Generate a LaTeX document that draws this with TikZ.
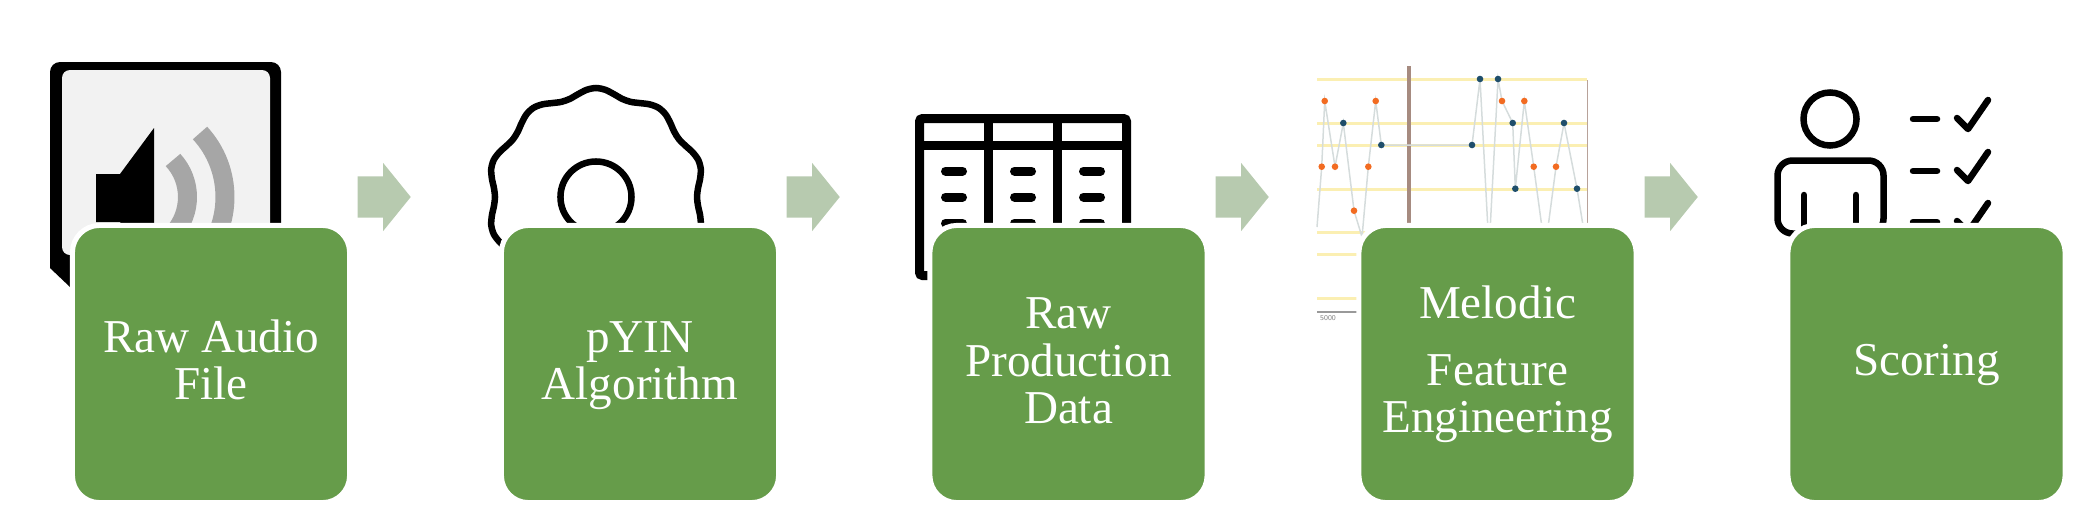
\documentclass[tikz,border=0pt]{standalone}
\usepackage{fontspec}
\setmainfont{Liberation Serif}
\usetikzlibrary{shapes.arrows, positioning}

\definecolor{boxgreen}{HTML}{669C4A}
\definecolor{arrowgreen}{HTML}{B7CAAF}
\definecolor{wavegray}{HTML}{A6A6A6}
\definecolor{panelgray}{HTML}{F2F2F2}
\definecolor{gridyellow}{HTML}{FBEFB2}
\definecolor{cursorbrown}{HTML}{A68B80}
\definecolor{traceline}{HTML}{D5DCDC}
\definecolor{dotorange}{HTML}{F26B21}
\definecolor{dotblue}{HTML}{1F4E6B}

\newcommand{\headstrut}{\rule{0pt}{0.34cm}}

\begin{document}
\begin{tikzpicture}[
    x=0.01cm, y=-0.01cm,
    stepbox/.style={
        draw=white, line width=0.05cm, rectangle, rounded corners=0.27cm,
        minimum width=2.77cm, minimum height=2.77cm, inner sep=0pt,
        fill=boxgreen, text=white, align=center,
        font=\fontsize{13.4}{13.6}\selectfont,
        execute at end node={\rule[-0.10cm]{0pt}{0.10cm}}
    },
    flowarrow/.style={
        single arrow, fill=arrowgreen, anchor=tail,
        inner xsep=0pt, inner ysep=0.2cm,
        minimum height=0.53cm, minimum width=0.67cm,
        single arrow head extend=0.135cm, single arrow tip angle=102
    },
    iconline/.style={draw=black, line width=0.065cm},
    tabline/.style={draw=black, line width=0.09cm},
    tabdash/.style={draw=black, line width=0.09cm, line cap=round},
    tickline/.style={draw=black, line width=0.065cm, line cap=round, line join=round},
    waveline/.style={draw=wavegray, line width=0.19cm},
    gridline/.style={draw=gridyellow, line width=0.03cm}
]
\useasboundingbox (0,0) rectangle (2092,530);

\fill[black, rounded corners=0.1cm] (50,268) -- (50,62) -- (281,62) -- (281,287) -- (100,287);
\fill[black] (50,262) -- (50,268) -- (70,287) -- (100,287) -- (100,262) -- cycle;
\fill[panelgray, rounded corners=0.08cm] (62,70) rectangle (270,255);
\fill[black] (96,174) -- (120,174) -- (154,128) -- (154,266) -- (120,222) -- (96,222) -- cycle;
\draw[waveline] (173,160) .. controls (192.3,180.8) and (192.3,213.2) .. (173,234);
\draw[waveline] (200,133) .. controls (233.3,169.1) and (233.3,224.9) .. (200,261);

\draw[iconline, smooth cycle] plot[domain=0:355, samples=72, variable=\t]
    ({596+(105+4*cos(10*(\t-90)))*cos(\t)}, {197-(105+4*cos(10*(\t-90)))*sin(\t)});
\draw[iconline] (596,197) ++(35.5,0) arc[start angle=0, end angle=360, radius=0.355cm];

\draw[tabline, rounded corners=0.03cm] (919.5,118.5) rectangle (1126.5,275.5);
\draw[tabline] (919.5,145.5) -- (1126.5,145.5);
\draw[tabline] (988,118.5) -- (988,275.5);
\draw[tabline] (1057,118.5) -- (1057,275.5);
\foreach \tx in {945.5, 1014.5, 1083.5} {
    \foreach \ty in {171, 197, 223} {
        \draw[tabdash] (\tx,\ty) -- ++(17,0);
    }
}

\foreach \gy in {79, 123, 145, 189, 232, 254, 298} {
    \draw[gridline] (1317,\gy) -- (1587,\gy);
}
\draw[cursorbrown, line width=0.035cm] (1409,66) -- (1409,240);
\draw[cursorbrown!80, line width=0.01cm] (1587,80) -- (1587,240);
\draw[traceline, line width=0.015cm] (1317,227) -- (1321.7,166.7) -- (1324.7,101) -- (1335,166.7)
    -- (1343.3,123) -- (1354,210.7) -- (1362,237) -- (1368.3,166.7) -- (1375.7,101) -- (1381.3,145)
    -- (1472,145) -- (1480,79) -- (1489,250) -- (1498,79) -- (1502,101) -- (1512.7,123) -- (1515.3,188.7)
    -- (1524.3,101) -- (1533.7,166.7) -- (1545,250) -- (1556,166.7) -- (1564,123) -- (1577,188.7) -- (1587,250);
\foreach \dx/\dy in {1324.7/101, 1321.7/166.7, 1335/166.7, 1354/210.7, 1375.7/101, 1368.3/166.7,
    1502/101, 1524.3/101, 1533.7/166.7, 1556/166.7} {
    \fill[dotorange] (\dx,\dy) circle[radius=0.033cm];
}
\foreach \dx/\dy in {1343.3/123, 1381.3/145, 1472/145, 1480/79, 1498/79, 1512.7/123,
    1515.3/188.7, 1564/123, 1577/188.7} {
    \fill[dotblue] (\dx,\dy) circle[radius=0.033cm];
}
\draw[gray!80, line width=0.012cm] (1317,312) -- (1360,312);
\node[text=gray, inner sep=0pt, font=\fontsize{2.1}{2.5}\sffamily] (axislabel) at (1328,318) {5000};

\draw[iconline] (1830,119) circle[radius=0.265cm];
\draw[iconline, rounded corners=0.15cm] (1777.5,160.5) rectangle (1883.5,233.5);
\draw[tickline] (1804,195) -- (1804,233);
\draw[tickline] (1856,195) -- (1856,233);
\foreach \ly in {119, 171, 222} {
    \draw[tickline] (1913,\ly) -- (1937,\ly);
    \draw[tickline] (1957,\ly-1) -- (1968,\ly+10) -- (1988,\ly-19);
}

\node[stepbox] (audio)   at (211,364)  {\headstrut Raw Audio\\File};
\node[stepbox] (pyin)    at (640,364)  {\headstrut pYIN\\Algorithm};
\node[stepbox] (prod)    at (1068.5,364) {\headstrut Raw\\Production\\Data};
\node[stepbox] (feature) at (1497.5,364) {\headstrut Melodic\\[5.2pt]Feature\\Engineering};
\node[stepbox] (score)   at (1926.5,364) {\headstrut Scoring};

\node[flowarrow] (arrowa) at (357,197)  {};
\node[flowarrow] (arrowb) at (786,197)  {};
\node[flowarrow] (arrowc) at (1215,197) {};
\node[flowarrow] (arrowd) at (1644,197) {};

\end{tikzpicture}
\end{document}
